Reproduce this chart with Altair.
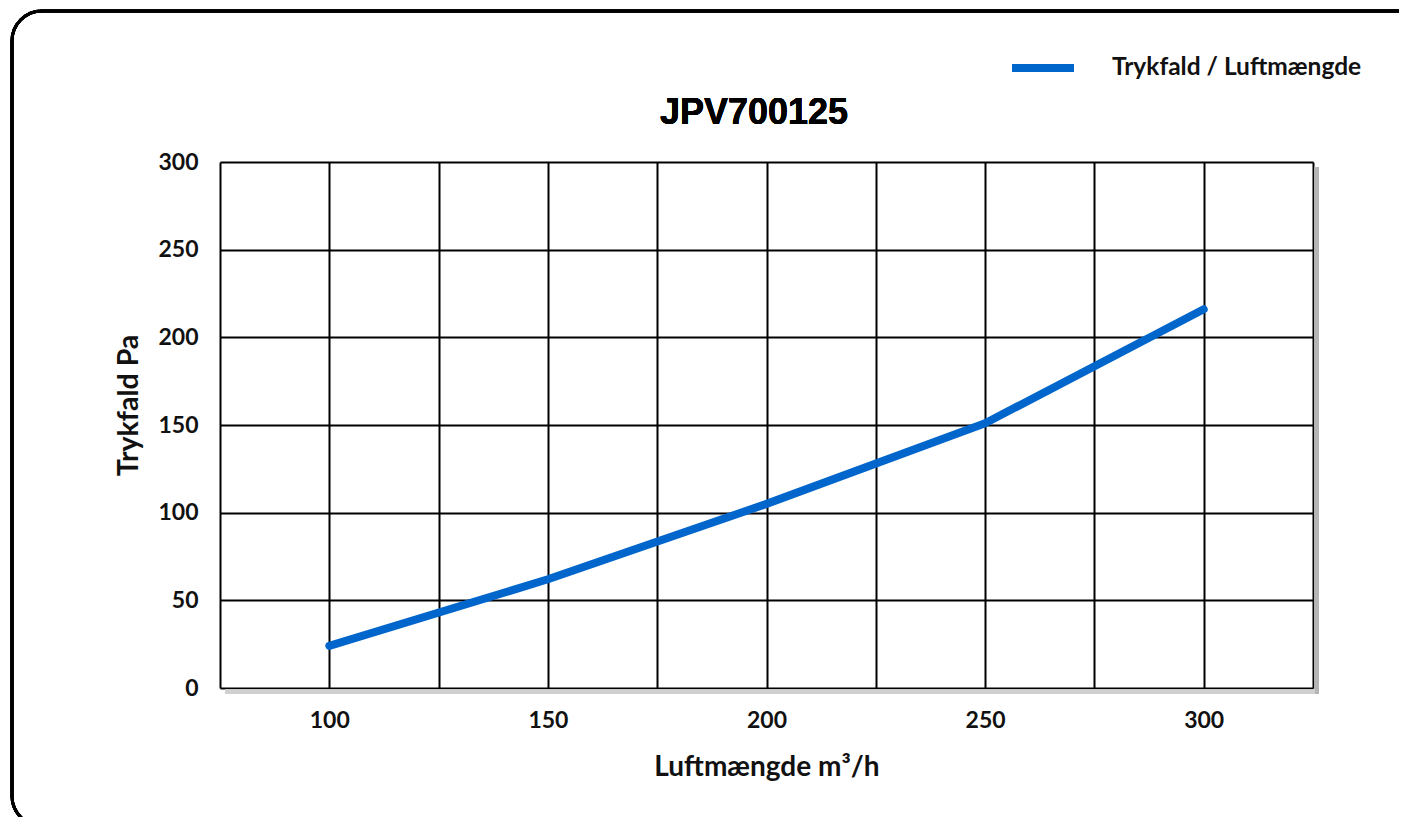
import altair as alt
import pandas as pd

# ---- data ----
airflow = [100, 150, 200, 250, 300]
pressure_drop = [24, 62, 105, 151, 216]
series_name = "Trykfald / Luftmængde"
x_grid_values = [75, 100, 125, 150, 175, 200, 225, 250, 275, 300, 325]
y_tick_values = [0, 50, 100, 150, 200, 250, 300]
chart_title = "JPV700125"
x_title = "Luftmængde m³/h"
y_title = "Trykfald Pa"

df = pd.DataFrame({"x": airflow, "y": pressure_drop, "series": [series_name] * len(airflow)})

W, H = 1093, 526
LABEL_FONT = "Lato"

x_enc = alt.X(
    "x:Q",
    scale=alt.Scale(domain=[75, 325], nice=False, zero=False),
    axis=alt.Axis(
        values=x_grid_values,
        labelExpr="datum.value % 50 == 0 ? datum.label : ''",
        labelOverlap=False,
        labelFlush=False,
        grid=True, gridColor="black", gridWidth=2, gridOpacity=1,
        domain=False, ticks=False,
        labelFont=LABEL_FONT, labelFontWeight="bold", labelFontSize=23, labelColor="#111",
        labelPadding=21,
        title=x_title, titleFont=LABEL_FONT, titleFontWeight="bold", titleFontSize=28,
        titleColor="#111", titlePadding=21,
    ),
)
y_enc = alt.Y(
    "y:Q",
    scale=alt.Scale(domain=[0, 300], nice=False, zero=True),
    axis=alt.Axis(
        values=y_tick_values,
        grid=True, gridColor="black", gridWidth=2, gridOpacity=1,
        domain=False, ticks=False,
        labelFont=LABEL_FONT, labelFontWeight="bold", labelFontSize=23, labelColor="#111",
        labelPadding=22,
        title=y_title, titleFont=LABEL_FONT, titleFontWeight="bold", titleFontSize=28.5,
        titleColor="#111", titlePadding=14, titleY=243,
    ),
)

line = alt.Chart(df).mark_line(strokeWidth=8, strokeCap="round", strokeJoin="round").encode(
    x=x_enc,
    y=y_enc,
    color=alt.Color(
        "series:N",
        scale=alt.Scale(domain=[series_name], range=["#0066CC"]),
        legend=alt.Legend(
            title=None, orient="none", legendX=788, legendY=-129,
            symbolType="stroke", symbolStrokeWidth=8, symbolSize=3844,
            labelFont=LABEL_FONT, labelFontWeight="bold", labelFontSize=24.5, labelColor="#111",
            labelOffset=34, labelLimit=600, padding=0,
        ),
    ),
)

shadow_right = alt.Chart(df).mark_rect(color="#b5b5b5", opacity=0.8).encode(
    x=alt.value(W + 1.5), x2=alt.value(W + 6), y=alt.value(5), y2=alt.value(H + 6)
)
shadow_bottom = alt.Chart(df).mark_rect(color="#d0d0d0", opacity=0.8).encode(
    x=alt.value(5), x2=alt.value(W + 1.5), y=alt.value(H + 1.5), y2=alt.value(H + 6)
)
frame = alt.Chart(df).mark_rect(
    fill=None, stroke="black", strokeWidth=3, cornerRadius=30, fillOpacity=0
).encode(
    x=alt.value(-208), x2=alt.value(1207), y=alt.value(-151), y2=alt.value(664)
)
title_text = alt.Chart(df).mark_text(
    text=chart_title, font="Liberation Sans", fontSize=36,
    fontWeight="bold", color="black", align="center", baseline="alphabetic",
).encode(x=alt.value(534), y=alt.value(-38))

chart = alt.layer(frame, shadow_right, shadow_bottom, title_text, line).properties(
    width=W,
    height=H,
    autosize=alt.AutoSizeParams(type="none"),
    padding={"left": 212, "top": 154, "right": 86, "bottom": 129},
).configure_view(stroke="black", strokeWidth=3, fill="white").configure(background="white")

chart.save("out.html", embed_options={"renderer": "svg", "actions": False})
